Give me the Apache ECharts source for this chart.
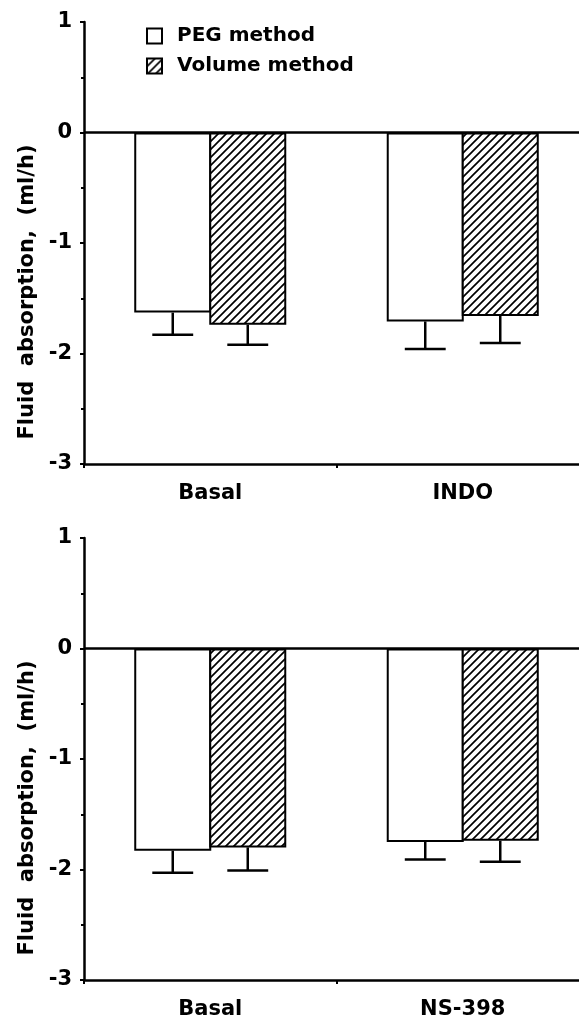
<!DOCTYPE html>
<html>
<head>
<meta charset="utf-8">
<script src="https://cdn.jsdelivr.net/npm/echarts@6/dist/echarts.min.js"></script>
<style>
html,body{margin:0;padding:0;background:#fff;}
#c{width:579px;height:1019px;}
</style>
</head>
<body>
<div id="c"></div>
<script>
// ---- data ----
var seriesNames = ['PEG method', 'Volume method'];
var yTicks = [-3, -2, -1, 0, 1];
var yAxisTitle = 'Fluid  absorption,  (ml/h)';

var topCategories = ['Basal', 'INDO'];
var topPeg = [-1.63, -1.71];
var topPegSe = [0.20, 0.25];
var topVol = [-1.74, -1.66];
var topVolSe = [0.18, 0.245];

var bottomCategories = ['Basal', 'NS-398'];
var bottomPeg = [-1.83, -1.75];
var bottomPegSe = [0.20, 0.16];
var bottomVol = [-1.80, -1.74];
var bottomVolSe = [0.21, 0.19];

// ---- styling ----
var FONT = 'DejaVu Sans';
var BAR_W = 0.305;   // fraction of band per bar
var GAP = -0.026;    // bar gap as fraction of bar width (shared border)

function makeHatch() {
  var s = 8;
  var cv = document.createElement('canvas');
  cv.width = s; cv.height = s;
  var g = cv.getContext('2d');
  g.fillStyle = '#fff';
  g.fillRect(0, 0, s, s);
  g.strokeStyle = '#000';
  g.lineWidth = 1.7;
  g.lineCap = 'square';
  g.beginPath();
  g.moveTo(0, s); g.lineTo(s, 0);
  g.moveTo(-s / 2, s / 2); g.lineTo(s / 2, -s / 2);
  g.moveTo(s / 2, s * 1.5); g.lineTo(s * 1.5, s / 2);
  g.stroke();
  return cv;
}
var hatch = { image: makeHatch(), repeat: 'repeat' };

function gridCfg(top) {
  return { left: 84, width: 505, top: top, height: 442, containLabel: false, outerBoundsMode: 'none' };
}

function xAxisCfg(gi, cats) {
  return {
    type: 'category', gridIndex: gi, data: cats,
    axisLine: { onZero: false, lineStyle: { color: '#000', width: 2.5 } },
    axisTick: { show: true, length: 4, lineStyle: { color: '#000', width: 2 } },
    axisLabel: { color: '#000', fontFamily: FONT, fontWeight: 'bold', fontSize: 21, margin: 19 },
    splitLine: { show: false }
  };
}

function yAxisCfg(gi) {
  return {
    type: 'value', gridIndex: gi, min: yTicks[0], max: yTicks[yTicks.length - 1], interval: 1,
    name: yAxisTitle, nameLocation: 'middle', nameGap: 46, nameRotate: 90,
    nameTextStyle: { color: '#000', fontFamily: FONT, fontWeight: 'bold', fontSize: 21, padding: [0, 98, 0, 0] },
    axisLine: { show: true, lineStyle: { color: '#000', width: 2.5 } },
    axisTick: { show: true, length: 4, lineStyle: { color: '#000', width: 2 } },
    minorTick: { show: true, splitNumber: 2, length: 3, lineStyle: { color: '#000', width: 2 } },
    axisLabel: { color: '#000', fontFamily: FONT, fontWeight: 'bold', fontSize: 21, margin: 12 },
    splitLine: { show: false }
  };
}

function barSeries(gi, name, vals, fill, withZero) {
  var s = {
    type: 'bar', name: name, xAxisIndex: gi, yAxisIndex: gi, data: vals,
    barWidth: (BAR_W * 100) + '%', barGap: (GAP * 100) + '%',
    itemStyle: { color: fill, borderColor: '#000', borderWidth: 2 },
    emphasis: { disabled: true }, animation: false
  };
  if (withZero) {
    s.markLine = {
      silent: true, symbol: ['none', 'none'], label: { show: false },
      lineStyle: { color: '#000', width: 2.5, type: 'solid' },
      data: [{ yAxis: 0 }]
    };
  }
  return s;
}

function errSeries(gi, vals, ses, side) {
  var data = vals.map(function (v, i) { return [i, v, ses[i]]; });
  return {
    type: 'custom', xAxisIndex: gi, yAxisIndex: gi, data: data,
    encode: { x: 0, y: 1 }, silent: true, animation: false, z: 5,
    renderItem: function (params, api) {
      var idx = api.value(0), mean = api.value(1), se = api.value(2);
      var band = api.size([1, 0])[0];
      var off = side * band * BAR_W * (1 + GAP) / 2;
      var p0 = api.coord([idx, mean]);
      var p1 = api.coord([idx, mean - se]);
      var x = p0[0] + off;
      var half = band * 0.081;
      var st = { stroke: '#000', lineWidth: 2.5, fill: null };
      return {
        type: 'group', children: [
          { type: 'line', shape: { x1: x, y1: p0[1], x2: x, y2: p1[1] }, style: st },
          { type: 'line', shape: { x1: x - half, y1: p1[1], x2: x + half, y2: p1[1] }, style: st }
        ]
      };
    }
  };
}

var option = {
  backgroundColor: '#fff',
  animation: false,
  legend: {
    orient: 'vertical', left: 141, top: 21, itemWidth: 15, itemHeight: 15, itemGap: 10,
    icon: 'rect', selectedMode: false,
    data: seriesNames,
    textStyle: { color: '#000', fontFamily: FONT, fontWeight: 'bold', fontSize: 20, padding: [0, 0, 0, 10] }
  },
  grid: [gridCfg(22), gridCfg(538)],
  xAxis: [xAxisCfg(0, topCategories), xAxisCfg(1, bottomCategories)],
  yAxis: [yAxisCfg(0), yAxisCfg(1)],
  series: [
    barSeries(0, seriesNames[0], topPeg, '#fff', true),
    barSeries(0, seriesNames[1], topVol, hatch, false),
    errSeries(0, topPeg, topPegSe, -1),
    errSeries(0, topVol, topVolSe, 1),
    barSeries(1, seriesNames[0], bottomPeg, '#fff', true),
    barSeries(1, seriesNames[1], bottomVol, hatch, false),
    errSeries(1, bottomPeg, bottomPegSe, -1),
    errSeries(1, bottomVol, bottomVolSe, 1)
  ]
};

var chart = echarts.init(document.getElementById('c'), null, { renderer: 'canvas' });
chart.setOption(option);
</script>
</body>
</html>
